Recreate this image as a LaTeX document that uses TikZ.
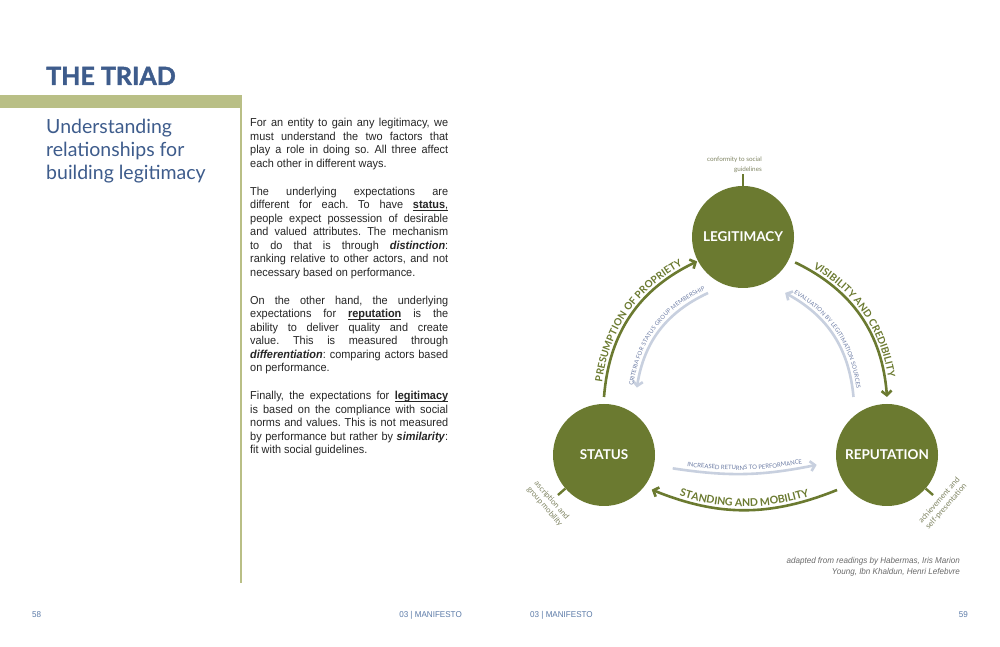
\documentclass[tikz,border=0pt]{standalone}
\usepackage{fontspec}
\setmainfont{Liberation Sans}[FakeStretch=0.95]
\newfontfamily\lato{Lato}
\newfontfamily\latonero{Lato}[BoldFeatures={FakeBold=1.6}]
\usetikzlibrary{calc,arrows.meta,decorations.text}
\definecolor{oliva}{HTML}{6B7A30}
\definecolor{salvia}{HTML}{B9BF86}
\definecolor{blu}{HTML}{3E5C8C}
\definecolor{blupiede}{HTML}{5C7BA8}
\definecolor{azzurrino}{HTML}{C8D0DF}
\definecolor{testoazz}{HTML}{6D7DA5}
\definecolor{testo}{HTML}{262626}
\definecolor{grigio}{HTML}{6A6A6A}
\definecolor{grigioliva}{HTML}{7F8462}
\newcommand{\fsz}[2]{\fontsize{#1}{#2}\selectfont}
\newcommand{\sotto}[1]{\underline{\smash{#1}}}
\frenchspacing

\begin{document}
\begin{tikzpicture}[x=1pt, y=1pt,
  >={Straight Barb[length=4.5pt, width=10pt]},
  cerchio/.style={circle, fill=oliva, minimum size=102pt, inner sep=0pt,
    text=white, font=\lato\bfseries\fsz{13.5}{16}},
  arco/.style={line width=2.6pt, oliva},
  arcochiaro/.style={line width=2.6pt, azzurrino},
  sulpercorso/.style={decorate, decoration={text along path, text align=center, raise=#1}},
  stelo/.style={line width=2.4pt, oliva},
  etichetta/.style={font=\lato\fsz{7.8}{9.2}, text=grigioliva, align=center, inner sep=1pt},
  piede/.style={font=\fsz{8.5}{10}, text=blupiede, inner sep=0pt}]

  \useasboundingbox (0,0) rectangle (1000,647);
  \fill[white] (0,0) rectangle (1000,647);

  % Titolo e fascia
  \node[anchor=base west, inner sep=0pt, font=\latonero\bfseries\fsz{25}{30}, text=blu]
    (titolo) at (46,562) {THE TRIAD};
  \fill[salvia] (0,539) rectangle (242,552);
  \draw[salvia, line width=2pt] (241,539) -- (241,64);
  \node[anchor=north west, inner sep=0pt, align=left, font=\lato\fsz{19.5}{23.3}, text=blu]
    (sottotitolo) at (46,528.5) {Understanding\\relationships for\\building legitimacy};

  % Testo
  \node[anchor=north west, inner sep=0pt, text width=198pt, align=justify,
    font=\fsz{11.5}{13.5}, text=testo] (corpo) at (250,529) {%
    \setlength{\parskip}{14.5pt}%
    For an entity to gain any legitimacy, we\linebreak
    must understand the two factors that\linebreak
    play a role in doing so. All three affect\linebreak
    each other in different ways.\par
    The underlying expectations are\linebreak
    different for each. To have \sotto{\textbf{status},}\linebreak
    people expect possession of desirable\linebreak
    and valued attributes. The mechanism\linebreak
    to do that is through \textbf{\textit{distinction}}:\linebreak
    ranking relative to other actors, and not\linebreak
    necessary based on performance.\par
    On the other hand, the underlying\linebreak
    expectations for \sotto{\textbf{reputation}} is the\linebreak
    ability to deliver quality and create\linebreak
    value. This is measured through\linebreak
    \textbf{\textit{differentiation}}: comparing actors based\linebreak
    on performance.\par
    Finally, the expectations for \sotto{\textbf{legitimacy}}\linebreak
    is based on the compliance with social\linebreak
    norms and values. This is not measured\linebreak
    by performance but rather by \textbf{\textit{similarity}}:\linebreak
    fit with social guidelines.};

  % Cerchi
  \node[cerchio] (L) at (743,410) {LEGITIMACY};
  \node[cerchio] (S) at (604,192) {STATUS};
  \node[cerchio] (R) at (887,192) {REPUTATION};

  % Estremi degli archi
  \coordinate (sl1) at ($(S)+(90:58)$);
  \coordinate (sl2) at ($(L)+(208:52)$);
  \coordinate (lr1) at ($(L)+(-26:58)$);
  \coordinate (lr2) at ($(R)+(90:58)$);
  \coordinate (rs1) at ($(R)+(215:61)$);
  \coordinate (rs2) at ($(S)+(-36:59)$);
  \coordinate (ls1) at ($(L)+(238:66)$);
  \coordinate (ls2) at ($(S)+(64:75)$);
  \coordinate (rl1) at ($(R)+(120:67)$);
  \coordinate (rl2) at ($(L)+(-53:70)$);
  \coordinate (sr1) at ($(S)+(-11:70)$);
  \coordinate (sr2) at ($(R)+(188:71)$);

  % Archi esterni
  \draw[arco, ->] (sl1) to[bend left=30] (sl2);
  \path[sulpercorso=3.5pt, decoration={text color=oliva,
    text={|\lato\bfseries\fsz{10}{12}|PRESUMPTION OF PROPRIETY}}]
    (sl1) to[bend left=30] (sl2);
  \draw[arco, ->] (lr1) to[bend left=30] (lr2);
  \path[sulpercorso=3.5pt, decoration={text color=oliva,
    text={|\lato\bfseries\fsz{10}{12}|VISIBILITY AND CREDIBILITY}}]
    (lr1) to[bend left=30] (lr2);
  \draw[arco, <-] (rs2) to[bend right=22] (rs1);
  \path[sulpercorso=3.5pt, decoration={text color=oliva,
    text={|\lato\bfseries\fsz{10.6}{12}|STANDING AND MOBILITY}}]
    (rs2) to[bend right=22] (rs1);

  % Archi interni
  \draw[arcochiaro, <-] (ls2) to[bend left=28] (ls1);
  \path[sulpercorso=4pt, decoration={text color=testoazz,
    text={|\lato\fsz{5.8}{7}|CRITERIA FOR STATUS GROUP MEMBERSHIP}}]
    (ls2) to[bend left=28] (ls1);
  \draw[arcochiaro, <-] (rl2) to[bend left=28] (rl1);
  \path[sulpercorso=4pt, decoration={text color=testoazz,
    text={|\lato\fsz{5.8}{7}|EVALUATION BY LEGITIMATION SOURCES}}]
    (rl2) to[bend left=28] (rl1);
  \draw[arcochiaro, ->] (sr1) to[bend right=10] (sr2);
  \path[sulpercorso=4pt, decoration={text color=testoazz,
    text={|\lato\fsz{6}{7}|INCREASED RETURNS TO PERFORMANCE}}]
    (sr1) to[bend right=10] (sr2);

  % Steli e note
  \draw[stelo] (L.north) -- ++(0,12) coordinate (Lr);
  \node[etichetta, anchor=south east, align=right, font=\lato\fsz{6.3}{10}]
    (Lt) at ($(Lr)+(20,0)$) {conformity to social\\guidelines};
  \draw[stelo] (S.221) -- ($(S)+(221:61)$) coordinate (Sr);
  \node[etichetta, rotate=-49] (St) at ($(S)+(221:74)$) {ascription and\\group mobility};
  \draw[stelo] (R.-41) -- ($(R)+(-41:61)$) coordinate (Rr);
  \node[etichetta, rotate=49] (Rt) at ($(R)+(-41:74)$) {achievement and\\self-presentation};

  % Fonte
  \node[anchor=north east, inner sep=0pt, align=right, font=\itshape\fsz{8.5}{11},
    text=grigio] (fonte) at (960,90)
    {adapted from readings by Habermas, Iris Marion\\Young, Ibn Khaldun, Henri Lefebvre};

  % Piede
  \node[piede, anchor=base west] (p58) at (32,29) {58};
  \node[piede, anchor=base east] (m1) at (462,29) {03 | MANIFESTO};
  \node[piede, anchor=base west] (m2) at (530,29) {03 | MANIFESTO};
  \node[piede, anchor=base east] (p59) at (968,29) {59};
\end{tikzpicture}
\end{document}
